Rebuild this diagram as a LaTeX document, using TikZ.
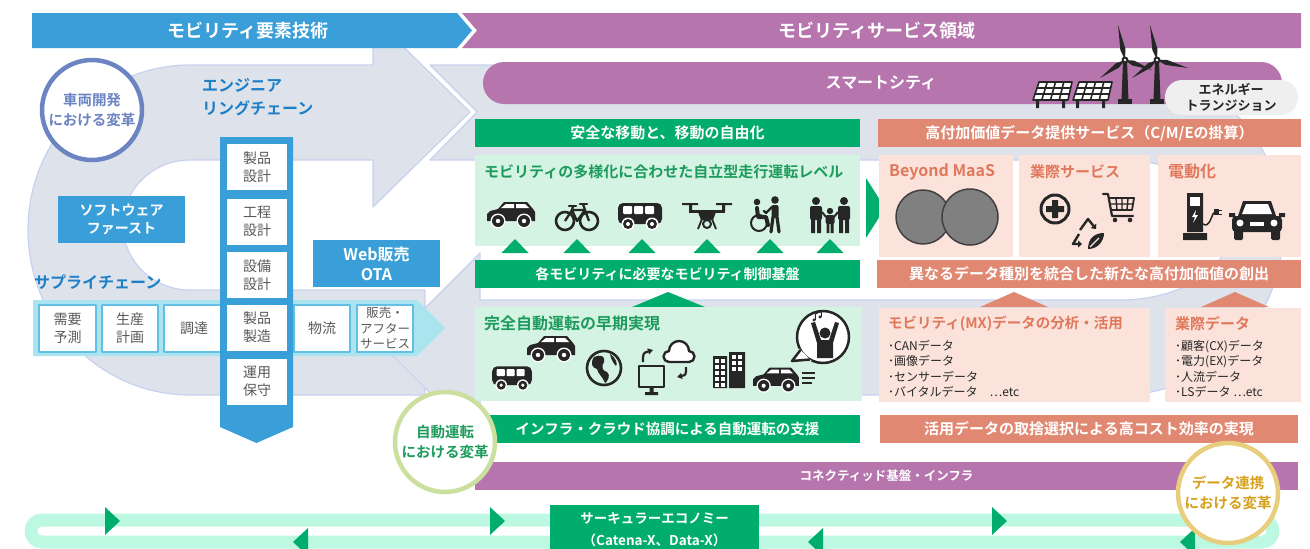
\documentclass[tikz,border=0pt]{standalone}
\usepackage{fontspec}
\setmainfont{Noto Sans CJK JP}[BoldFont={Noto Sans CJK JP Bold}]
\usetikzlibrary{calc,arrows.meta}

\definecolor{hdrblue}{HTML}{3A9FD8}
\definecolor{hdrpurple}{HTML}{B676AD}
\definecolor{loopgray}{HTML}{DEE2EB}
\definecolor{loopedge}{HTML}{C8D2F0}
\definecolor{mgreen}{HTML}{00AD6C}
\definecolor{lgreen}{HTML}{D4F3E3}
\definecolor{tgreen}{HTML}{1C9B5C}
\definecolor{salmon}{HTML}{E08872}
\definecolor{lpink}{HTML}{FBE3DC}
\definecolor{tsalmon}{HTML}{E0785C}
\definecolor{chainblue}{HTML}{1D7FC6}
\definecolor{supcyan}{HTML}{A9E4EF}
\definecolor{boxedge}{HTML}{62C0E6}
\definecolor{boxtext}{HTML}{595959}
\definecolor{ink}{HTML}{262626}
\definecolor{mint}{HTML}{BDF8E2}
\definecolor{ringblue}{HTML}{6C84C2}
\definecolor{ringgreen}{HTML}{CBDF9E}
\definecolor{ringgold}{HTML}{E7CD7C}
\definecolor{txtgold}{HTML}{D6A11E}
\definecolor{pillgray}{HTML}{EFEFEF}

\newcommand{\fsz}[2]{\fontsize{#1}{#2}\selectfont}
% one rotor blade from hub to tip
\newcommand{\blade}[4]{\fill[ink] (#1,#2) -- ($(#1,#2)!0.3!(#3,#4)!2.6pt!90:(#3,#4)$) -- (#3,#4) -- ($(#1,#2)!0.3!(#3,#4)!2.6pt!-90:(#3,#4)$) -- cycle;}

\tikzset{
  hdrtext/.style={text=white, inner sep=0, font=\bfseries\fsz{18}{20}},
  textbar/.style={minimum height=28, inner sep=0, text=white, font=\bfseries\fsz{15}{17}},
  greenbar/.style={textbar, fill=mgreen},
  salmonbar/.style={textbar, fill=salmon},
  purplebar/.style={textbar, fill=hdrpurple, font=\bfseries\fsz{12.5}{15}},
  greenpanel/.style={fill=lgreen, inner sep=0},
  pinkpanel/.style={fill=lpink, inner sep=0},
  greentitle/.style={anchor=west, inner sep=0, text=tgreen, font=\bfseries\fsz{15}{17}},
  pinktitle/.style={anchor=west, inner sep=0, text=tsalmon, font=\bfseries\fsz{15}{17}},
  datalist/.style={anchor=north west, inner sep=0, align=left, text=ink, font=\fsz{12}{15.3}},
  bluebox/.style={fill=hdrblue, text=white, align=center, inner sep=0, font=\bfseries\fsz{14}{18}},
  chaintitle/.style={text=chainblue, align=left, inner sep=0, font=\bfseries\fsz{16}{23}},
  chaincell/.style={fill=white, minimum width=60, minimum height=46, inner sep=0, align=center, text=boxtext, font=\fsz{14}{18}},
  supcell/.style={fill=white, draw=boxedge, line width=1.2, minimum height=47, minimum width=56, inner sep=0, align=center, text=boxtext, font=\fsz{14}{18}},
  ring/.style={circle, fill=white, line width=4.5, minimum size=100, inner sep=0, align=center, font=\bfseries\fsz{14.5}{20}},
  % icons
  carside/.pic={
    \fill[ink] (-24,5) -- (-24,-2) -- (-21,-5) -- (-13,-7) -- (-7,-14) -- (16,-14) -- (22,-7) -- (24,-4) -- (24,5) -- cycle;
    \fill[white] (-10,-8) -- (-5,-12) -- (3,-12) -- (3,-8) -- cycle;
    \fill[white] (5,-12) -- (14,-12) -- (18,-8) -- (5,-8) -- cycle;
    \foreach \w in {-13,13} {\fill[white] (\w,5) circle (7.5); \fill[ink] (\w,5) circle (6); \fill[white] (\w,5) circle (2.2);}
  },
  bus/.pic={
    \fill[ink, rounded corners=5] (-22,-13) rectangle (22,8);
    \foreach \u in {-17,-6,5} \fill[white, rounded corners=1] (\u,-10) rectangle ({\u+9},-2);
    \foreach \w in {-12,12} {\fill[white] (\w,8) circle (6.5); \fill[ink] (\w,8) circle (5); \fill[white] (\w,8) circle (2);}
  },
  bike/.pic={
    \draw[ink, line width=2.6] (-12,5) circle (9) (12,5) circle (9);
    \draw[ink, line width=2.3] (-12,5) -- (-5,-6) -- (8,-6) -- (12,5) (-5,-6) -- (0,5) -- (8,-6) (-4,-10) -- (-5,-6) (6,-12) -- (8,-6);
    \draw[ink, line width=2.6, line cap=round] (-8,-10) -- (-1,-10) (3,-12) -- (10,-12);
  },
  drone/.pic={
    \fill[ink] (-25,-13) rectangle (-9,-11) (9,-13) rectangle (25,-11);
    \fill[ink] (-18,-12) rectangle (-15,-5) (15,-12) rectangle (18,-5);
    \fill[ink] (-18,-6) rectangle (18,-3);
    \fill[ink] (-9,-4) -- (9,-4) -- (6,4) -- (-6,4) -- cycle;
    \draw[ink, line width=2] (0,8) circle (4);
    \draw[ink, line width=1.8] (-5,3) -- (-9,13) (5,3) -- (9,13);
  },
  wheelchair/.pic={
    \fill[ink] (10,-15) circle (3.8);
    \fill[ink, rounded corners=2] (6.5,-10) rectangle (13.5,3);
    \draw[ink, line width=3.2, line cap=round] (8,2) -- (6,17) (12,2) -- (14,17);
    \draw[ink, line width=2.4, line cap=round] (7,-8) -- (1,-2) -- (-1,-4);
    \fill[ink] (-8,-13) circle (3.3);
    \draw[ink, line width=4, line cap=round, line join=round] (-8,-7) -- (-7,2) -- (1,2) -- (3,10);
    \draw[ink, line width=2] (-6,8) circle (8);
  },
  family/.pic={
    \foreach \p in {-14,14} {
      \fill[ink] (\p,-15) circle (4);
      \fill[ink, rounded corners=2] ({\p-6},-10) rectangle ({\p+6},4);
      \fill[ink] ({\p-5},3) rectangle ({\p-1},17) ({\p+1},3) rectangle ({\p+5},17);
    }
    \fill[ink] (0,-5) circle (3.2);
    \fill[ink, rounded corners=1.5] (-4.5,-1) rectangle (4.5,8);
    \fill[ink] (-3.5,7) rectangle (-0.7,17) (0.7,7) rectangle (3.5,17);
    \draw[ink, line width=2] (-8,-4) -- (-4,1) (8,-4) -- (4,1);
  },
  globe/.pic={
    \draw[ink, line width=2.6] (0,0) circle (17);
    \fill[ink] (-10,-11) .. controls (-4,-14) and (2,-12) .. (0,-6) .. controls (-3,-2) and (-2,3) .. (3,4) .. controls (7,7) and (4,13) .. (1,15) .. controls (-1,9) and (-6,6) .. (-7,1) .. controls (-12,0) and (-14,-5) .. cycle;
    \fill[ink] (6,-14) .. controls (12,-10) and (14,-4) .. (12,-2) .. controls (9,-5) and (7,-9) .. cycle;
  },
  monitorcloud/.pic={
    \draw[ink, line width=2.6] (-26,-1) rectangle (-1,20);
    \fill[ink] (-15.5,20) rectangle (-11.5,25) (-20,25) rectangle (-7,28);
    \draw[ink, line width=2.4, fill=white] (4,-5) -- (24,-5) arc[start angle=90, end angle=-90, radius=5.5] arc[start angle=0, end angle=-180, radius=10] arc[start angle=-90, end angle=-270, radius=5.5] -- cycle;
    \draw[ink, line width=2.2, -{Triangle[length=5pt,width=6pt]}] (-22,-5) .. controls (-22,-14) .. (-12,-17);
    \draw[ink, line width=2.2, -{Triangle[length=5pt,width=6pt]}] (21,0) .. controls (21,8) .. (12,10);
  },
  towers/.pic={
    \fill[ink] (-20,-14) rectangle (-6,18) (-4,-18) rectangle (12,18);
    \foreach \r in {0,...,4} \foreach \c in {0,1} \fill[white] ({-18+6*\c},{-11+6*\r}) rectangle ++(3.5,3.5);
    \foreach \r in {0,...,2} \foreach \c in {0,1} \fill[white] ({-1+6*\c},{-15+6*\r}) rectangle ++(3.5,3.5);
  },
  cheer/.pic={
    \draw[ink, line width=2.5, fill=white] (0,0) circle (26);
    \fill[white] (-24,11.5) -- (-31,24) -- (-11.5,24) -- cycle;
    \draw[ink, line width=2.5] (-22.5,13) -- (-31,24) -- (-13,22.5);
    \fill[ink] (2,-4) circle (5.5);
    \fill[ink] (-12,-14) -- (-8,-15) -- (-2,3) -- (6,3) -- (12,-15) -- (16,-14) -- (10,6) -- (10,21) -- (-6,21) -- (-6,6) -- cycle;
    \fill[ink] (-9,-17) circle (1.6) (-3,-20) circle (1.6);
    \draw[ink, line width=1] (-7.6,-17) -- (-7.6,-23) -- (-1.6,-26) -- (-1.6,-20);
  },
  plusmark/.pic={
    \draw[ink, line width=3] (0,0) circle (14);
    \fill[ink] (-9,-3) rectangle (9,3) (-3,-9) rectangle (3,9);
  },
  cart/.pic={
    \draw[ink, line width=2.2, line cap=round] (-17,-14) -- (-12,-14) -- (-8,8) -- (13,8);
    \draw[ink, line width=1.8] (-10,-10) -- (14,-10) -- (12,2) -- (-8,2);
    \draw[ink, line width=1.4] (-9,-4) -- (13,-4) (-4,-10) -- (-3,2) (2,-10) -- (2,2) (8,-10) -- (7,2);
    \fill[ink] (-5,12) circle (2.3) (10,12) circle (2.3);
  },
  recycle/.pic={
    \draw[ink, line width=2.4, -{Triangle[length=4pt,width=7pt]}] (-8,-4) -- (0,-15) -- (8,-5);
    \draw[ink, line width=2.4, -{Triangle[length=4pt,width=7pt]}] (-9,0) -- (-15,10) -- (-6,10);
    \fill[ink] (0,15) .. controls (0,4) and (7,-1) .. (16,-1) .. controls (16,7) and (10,15) .. (0,15) -- cycle;
    \draw[lpink, line width=1.1] (2,13) -- (11,4);
  },
  charger/.pic={
    \fill[ink] (-10,-23) rectangle (6,16) (-14,17) rectangle (10,24);
    \fill[white] (-7,-19) rectangle (3,-10);
    \fill[white] (-1,-6) -- (-5,1) -- (-2,1) -- (-4,7) -- (1,-1) -- (-2,-1) -- cycle;
    \draw[ink, line width=1.5] (6,8) .. controls (12,12) and (14,2) .. (16,-2) -- (18,-4);
    \fill[ink] (17,-7) rectangle (22,-1);
    \draw[ink, line width=1] (22,-6) -- (25,-6) (22,-2) -- (25,-2);
  },
  carfront/.pic={
    \fill[ink, rounded corners=4] (-25,-4) rectangle (25,12);
    \fill[ink] (-19,-4) -- (-14,-19) -- (14,-19) -- (19,-4) -- cycle;
    \fill[white] (-15,-6) -- (-11,-16) -- (11,-16) -- (15,-6) -- cycle;
    \fill[ink] (-28,-7) rectangle (-22,-3) (22,-7) rectangle (28,-3);
    \fill[white] (-17,3) circle (3.5) (17,3) circle (3.5);
    \fill[white] (-7,2) rectangle (7,6);
    \fill[ink, rounded corners=1.5] (-23,10) rectangle (-14,20) (14,10) rectangle (23,20);
  }
}

\begin{document}
\begin{tikzpicture}[x=1pt, y=-1pt, line join=round]
\useasboundingbox (0,0) rectangle (1310,549);

% engineering chain loop (left) and service loop (right)
\filldraw[fill=loopgray, draw=loopedge, line width=1.2]
  (373,65) -- (190,65) arc[start angle=270, end angle=90, x radius=162, y radius=165]
  -- (425,395) -- (425,290) -- (190,290)
  arc[start angle=90, end angle=270, x radius=67, y radius=65]
  -- (373,160) -- (373,207) -- (470,112) -- (373,17) -- cycle;
\filldraw[fill=loopgray, draw=loopedge, line width=1.2]
  (430,65) -- (1120,65) arc[start angle=270, end angle=450, x radius=163, y radius=165]
  -- (480,395) -- (480,443) -- (385,348) -- (480,253) -- (480,300) -- (1120,300)
  arc[start angle=90, end angle=-90, x radius=110, y radius=70]
  -- (430,160) -- (477,112) -- cycle;

% headers
\fill[hdrblue] (32,13) -- (457,13) -- (472,30.5) -- (457,48) -- (32,48) -- cycle;
\fill[hdrpurple] (462,13) -- (1301,13) -- (1301,48) -- (462,48) -- (477,30.5) -- cycle;
\node[hdrtext] (tech) at (248,30.5) {モビリティ要素技術};
\node[hdrtext] (service) at (877,30.5) {モビリティサービス領域};

% smart city
\fill[hdrpurple, rounded corners=21] (483,62) rectangle (1282,104);
\node[text=white, inner sep=0, font=\bfseries\fsz{16}{18}] (city) at (881,83) {スマートシティ};

% solar panels
\foreach \d in {0,40} {
  \fill[ink] ({1036+\d},100) rectangle ({1039+\d},108) ({1062+\d},100) rectangle ({1065+\d},108);
  \draw[ink, line width=1.6, fill=white] ({1039+\d},82) -- ({1072+\d},82) -- ({1068+\d},100) -- ({1033+\d},100) -- cycle;
  \foreach \f in {0.25,0.5,0.75} \draw[ink, line width=1.6] ({1039+33*\f+\d},82) -- ({1033+35*\f+\d},100);
  \foreach \r in {0.333,0.667} \draw[ink, line width=1.6] ({1039-6*\r+\d},{82+18*\r}) -- ({1072-4*\r+\d},{82+18*\r});
}
% wind turbines
\foreach \h in {1125,1157} {
  \fill[ink] ({\h-2},60) -- ({\h+2},60) -- ({\h+3.5},101) -- ({\h-3.5},101) -- cycle;
  \fill[ink] ({\h-7},99) rectangle ({\h+7},104);
}
\blade{1125}{60}{1118}{25}
\blade{1125}{60}{1100}{78}
\blade{1125}{60}{1152}{70}
\blade{1157}{60}{1150}{25}
\blade{1157}{60}{1132}{78}
\blade{1157}{60}{1188}{68}
\foreach \h in {1125,1157} {\fill[ink] (\h,60) circle (3.5); \fill[white] (\h,60) circle (1.4);}

\fill[pillgray, rounded corners=17] (1165,80) rectangle (1298,115);
\node[text=ink, align=center, inner sep=0, font=\bfseries\fsz{13}{16}] (energy) at (1231,97.5) {エネルギー\\トランジション};

% left side: vehicle development
\node[ring, draw=ringblue, text=ringblue] (vehicle) at (92,110) {車両開発\\における変革};
\node[chaintitle, anchor=north west] (engchain) at (202,78) {エンジニア\\リングチェーン};
\node[bluebox, minimum width=127, minimum height=47] (swfirst) at (121.5,219.5) {ソフトウェア\\ファースト};
\node[bluebox, minimum width=127, minimum height=47, font=\bfseries\fsz{16}{20}] (webota) at (376.5,263.5) {Web販売\\OTA};
\node[chaintitle, anchor=west] (supchain) at (34,282) {サプライチェーン};

% supply chain arrow
\fill[supcyan] (33,300) -- (417,300) -- (445,328) -- (417,356) -- (33,356) -- cycle;
\node[supcell, minimum width=57] (demand) at (67.5,328.5) {需要\\予測};
\node[supcell] (plan) at (130,328.5) {生産\\計画};
\node[supcell, minimum width=60] (procure) at (194,328.5) {調達};
\node[supcell] (logistics) at (322,328.5) {物流};
\node[supcell, font=\fsz{12.5}{15.5}] (sales) at (385,328.5) {販売・\\アフター\\サービス};

% engineering chain column
\fill[hdrblue] (220,137) -- (293,137) -- (293,427) -- (256.5,443) -- (220,427) -- cycle;
\node[chaincell] (pdesign) at (257,167) {製品\\設計};
\node[chaincell] (prdesign) at (257,221.5) {工程\\設計};
\node[chaincell] (eqdesign) at (257,275) {設備\\設計};
\node[chaincell] (manuf) at (257,327.5) {製品\\製造};
\node[chaincell] (maint) at (257,381.5) {運用\\保守};

% mobility column
\node[greenbar, minimum width=385] (safe) at (667.5,133) {安全な移動と、移動の自由化};
\node[greenpanel, minimum width=385, minimum height=91] (levelsbox) at (667.5,200.5) {};
\node[greentitle] (levels) at (484,172) {モビリティの多様化に合わせた自立型走行運転レベル};
\pic at (511,216) {carside};
\pic at (577,216) {bike};
\pic at (640,216) {bus};
\pic at (707,216) {drone};
\pic at (765,215) {wheelchair};
\pic at (830,216) {family};
\foreach \x in {515,577,642,707,770,830}
  \fill[mgreen] ({\x-13.5},253) -- (\x,239) -- ({\x+13.5},253) -- cycle;
\node[greenbar, minimum width=385, font=\bfseries\fsz{14}{17}] (control) at (667.5,274) {各モビリティに必要なモビリティ制御基盤};
\fill[mgreen] (632,307) -- (668,292) -- (705,307) -- cycle;
\node[greenpanel, minimum width=387, minimum height=94] (earlybox) at (668.5,354) {};
\node[greentitle, font=\bfseries\fsz{16}{18}] (early) at (484,323) {完全自動運転の早期実現};
\pic[scale=0.9] at (512,378) {bus};
\pic at (551,350) {carside};
\pic at (604,368) {globe};
\pic at (665,367) {monitorcloud};
\pic at (733,370) {towers};
\pic[scale=0.95] at (776,381) {carside};
\draw[ink, line width=1.8] (802,373) -- (815,373) (802,378) -- (815,378) (802,383) -- (812,383);
\pic at (823,337) {cheer};
\node[greenbar, minimum width=385, font=\bfseries\fsz{14.5}{17}] (infra) at (667.5,429) {インフラ・クラウド協調による自動運転の支援};

\fill[mgreen] (866,178) -- (885,208) -- (866,238) -- cycle;

% data service column
\node[salmonbar, minimum width=423] (valueadd) at (1089.5,133) {高付加価値データ提供サービス（C/M/Eの掛算）};
\node[pinkpanel, minimum width=134, minimum height=102] (maasbox) at (946,206) {};
\node[pinkpanel, minimum width=131, minimum height=102] (crossbox) at (1084.5,206) {};
\node[pinkpanel, minimum width=143, minimum height=102] (evbox) at (1229.5,206) {};
\node[pinktitle, font=\bfseries\fsz{16}{18}] (maas) at (889,172) {Beyond MaaS};
\node[pinktitle] (crossserv) at (1030,172) {業際サービス};
\node[pinktitle, font=\bfseries\fsz{16}{18}] (electric) at (1168,172) {電動化};
\filldraw[fill=black!50, draw=black!75, line width=1.5] (923,217) circle (27);
\filldraw[fill=black!50, draw=black!75, line width=1.5] (970,217) circle (28);
\pic at (1055,209) {plusmark};
\pic at (1120,208) {cart};
\pic at (1088,234) {recycle};
\pic at (1197,216) {charger};
\pic at (1257,220) {carfront};
\node[salmonbar, minimum width=424] (newvalue) at (1089,274) {異なるデータ種別を統合した新たな高付加価値の創出};
\fill[salmon] (980,307) -- (1014,292) -- (1048,307) -- cycle;
\fill[salmon] (1201,307) -- (1235,292) -- (1269,307) -- cycle;
\node[pinkpanel, minimum width=271, minimum height=94] (mxbox) at (1014.5,355) {};
\node[pinkpanel, minimum width=136, minimum height=94] (xdatabox) at (1233,355) {};
\node[pinktitle, font=\bfseries\fsz{14.5}{17}] (mx) at (888,324) {モビリティ(MX)データの分析・活用};
\node[pinktitle] (xdata) at (1175,324) {業際データ};
\node[datalist] (mxlist) at (888,340) {･CANデータ\\･画像データ\\･センサーデータ\\･バイタルデータ　…etc};
\node[datalist] (xlist) at (1175,340) {･顧客(CX)データ\\･電力(EX)データ\\･人流データ\\･LSデータ …etc};
\node[salmonbar, minimum width=418] (costeff) at (1089,429) {活用データの取捨選択による高コスト効率の実現};

% connected platform
\node[purplebar, minimum width=823] (connected) at (886.5,476) {コネクティッド基盤・インフラ};
\node[ring, draw=ringgreen, text=tgreen] (autodrive) at (445,442) {自動運転\\における変革};

% circular economy loop
\draw[mint, line width=13] (42,520) -- (1262,520) arc[start angle=-90, end angle=90, radius=11] -- (42,542) arc[start angle=90, end angle=270, radius=11] -- cycle;
\foreach \x in {105,490,992}
  \fill[mgreen] (\x,507) -- ({\x+15},521) -- (\x,535) -- cycle;
\foreach \x in {293,808,1180}
  \fill[mgreen] ({\x+15},528) -- (\x,542) -- ({\x+15},556) -- cycle;
\node[fill=mgreen, minimum width=209, minimum height=50, inner sep=0, align=center, text=white, font=\bfseries\fsz{13.5}{22}] (circular) at (654.5,530) {サーキュラーエコノミー\\（Catena-X、Data-X）};
\node[ring, draw=ringgold, text=txtgold] (datalink) at (1228,493) {データ連携\\における変革};
\end{tikzpicture}
\end{document}
